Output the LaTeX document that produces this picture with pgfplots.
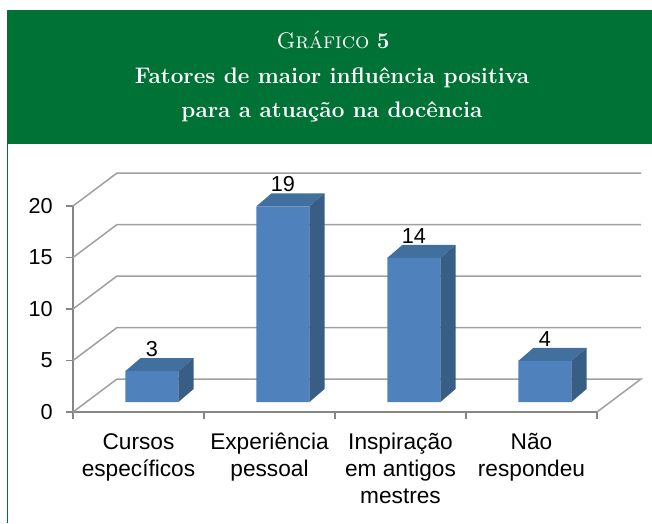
\documentclass[border=0pt]{standalone}
\usepackage{fontspec}
\usepackage{pgfplots}
\pgfplotsset{compat=1.18}
\newfontfamily\arial{Liberation Sans}
\definecolor{hdrgreen}{RGB}{0,114,54}
\definecolor{axgray}{RGB}{134,134,134}
\definecolor{gridgray}{RGB}{160,160,160}
\definecolor{barfront}{RGB}{79,129,189}
\definecolor{bartop}{RGB}{65,111,158}
\definecolor{barside}{RGB}{56,94,134}
\begin{document}
\begin{tikzpicture}
\path[use as bounding box] (0,0) rectangle (391.2pt,-313.8pt);
% header
\fill[hdrgreen] (4.2pt,-6pt) rectangle (391.2pt,-86.4pt);
\draw[hdrgreen, line width=0.6pt] (4.5pt,-86.4pt) -- (4.5pt,-313.8pt);
\node[anchor=base, text=white, inner sep=0pt] at (199.8pt,-28.8pt) {\fontsize{13.5}{16}\selectfont\textsc{Gráfico} \textbf{5}};
\node[anchor=base, text=white, inner sep=0pt] at (199.2pt,-49.8pt) {\fontsize{13.5}{16}\selectfont\bfseries Fatores de maior influência positiva};
\node[anchor=base, text=white, inner sep=0pt] at (199.2pt,-70.2pt) {\fontsize{13.5}{16}\selectfont\bfseries para a atuação na docência};
% walls, grid, ticks
\begin{axis}[
  at={(43.8pt,-247.2pt)}, anchor=south west,
  scale only axis, width=314.4pt, height=123.6pt,
  xmin=0, xmax=4, ymin=0, ymax=20, clip=false,
  axis x line=bottom, axis y line=left,
  axis line style={-, draw=axgray, line width=0.8pt},
  tick align=outside, major tick length=4pt,
  every tick/.style={draw=axgray, line width=0.8pt},
  /pgf/number format/assume math mode=true,
  ytick={0,5,10,15,20},
  yticklabel style={font=\arial\fontsize{13}{15}\selectfont, inner sep=0pt, xshift=-8pt},
  xtick={0,1,2,3,4}, xticklabels={,,,,},
  extra x ticks={0.5,1.5,2.5,3.5},
  extra x tick labels={{\strut Cursos\\específicos},{\strut Experiência\\pessoal},{\strut Inspiração\\em antigos\\mestres},{\strut Não\\respondeu}},
  extra x tick style={major tick length=0pt},
  xticklabel style={font=\arial\fontsize{13.6}{16.2}\selectfont, align=center, inner sep=0pt, yshift=-10.9pt},
]
\addplot[gridgray, line width=0.9pt] coordinates {(0,0) (0.336,3.2) (4.336,3.2) (4,0)};
\addplot[gridgray, line width=0.9pt] coordinates {(0,5) (0.336,8.2) (4.336,8.2)};
\addplot[gridgray, line width=0.9pt] coordinates {(0,10) (0.336,13.2) (4.336,13.2)};
\addplot[gridgray, line width=0.9pt] coordinates {(0,15) (0.336,18.2) (4.336,18.2)};
\addplot[gridgray, line width=0.9pt] coordinates {(0,20) (0.336,23.2) (4.336,23.2)};
\end{axis}
% bars
\begin{axis}[
  at={(43.8pt,-247.2pt)}, anchor=south west,
  scale only axis, width=314.4pt, height=123.6pt,
  xmin=0, xmax=4, ymin=-0.97, ymax=19.03, clip=false, hide axis,
  /pgf/number format/assume math mode=true,
]
\addplot[ybar, bar shift=0pt, bar width=0.405, fill=barfront, draw=none,
  nodes near coords,
  every node near coord/.append style={font=\arial\fontsize{13}{15}\selectfont, anchor=base, inner sep=0pt, yshift=8.7pt, text=black}]
  coordinates {(0.6025,3) (1.6025,19) (2.6025,14) (3.6025,4)};
% top faces
\addplot[fill=bartop, draw=none] coordinates {(0.40,3) (0.805,3) (0.92,4.26) (0.515,4.26)};
\addplot[fill=bartop, draw=none] coordinates {(1.40,19) (1.805,19) (1.92,20.26) (1.515,20.26)};
\addplot[fill=bartop, draw=none] coordinates {(2.40,14) (2.805,14) (2.92,15.26) (2.515,15.26)};
\addplot[fill=bartop, draw=none] coordinates {(3.40,4) (3.805,4) (3.92,5.26) (3.515,5.26)};
% side faces
\addplot[fill=barside, draw=none] coordinates {(0.805,0) (0.92,1.26) (0.92,4.26) (0.805,3)};
\addplot[fill=barside, draw=none] coordinates {(1.805,0) (1.92,1.26) (1.92,20.26) (1.805,19)};
\addplot[fill=barside, draw=none] coordinates {(2.805,0) (2.92,1.26) (2.92,15.26) (2.805,14)};
\addplot[fill=barside, draw=none] coordinates {(3.805,0) (3.92,1.26) (3.92,5.26) (3.805,4)};
\end{axis}
\end{tikzpicture}
\end{document}
